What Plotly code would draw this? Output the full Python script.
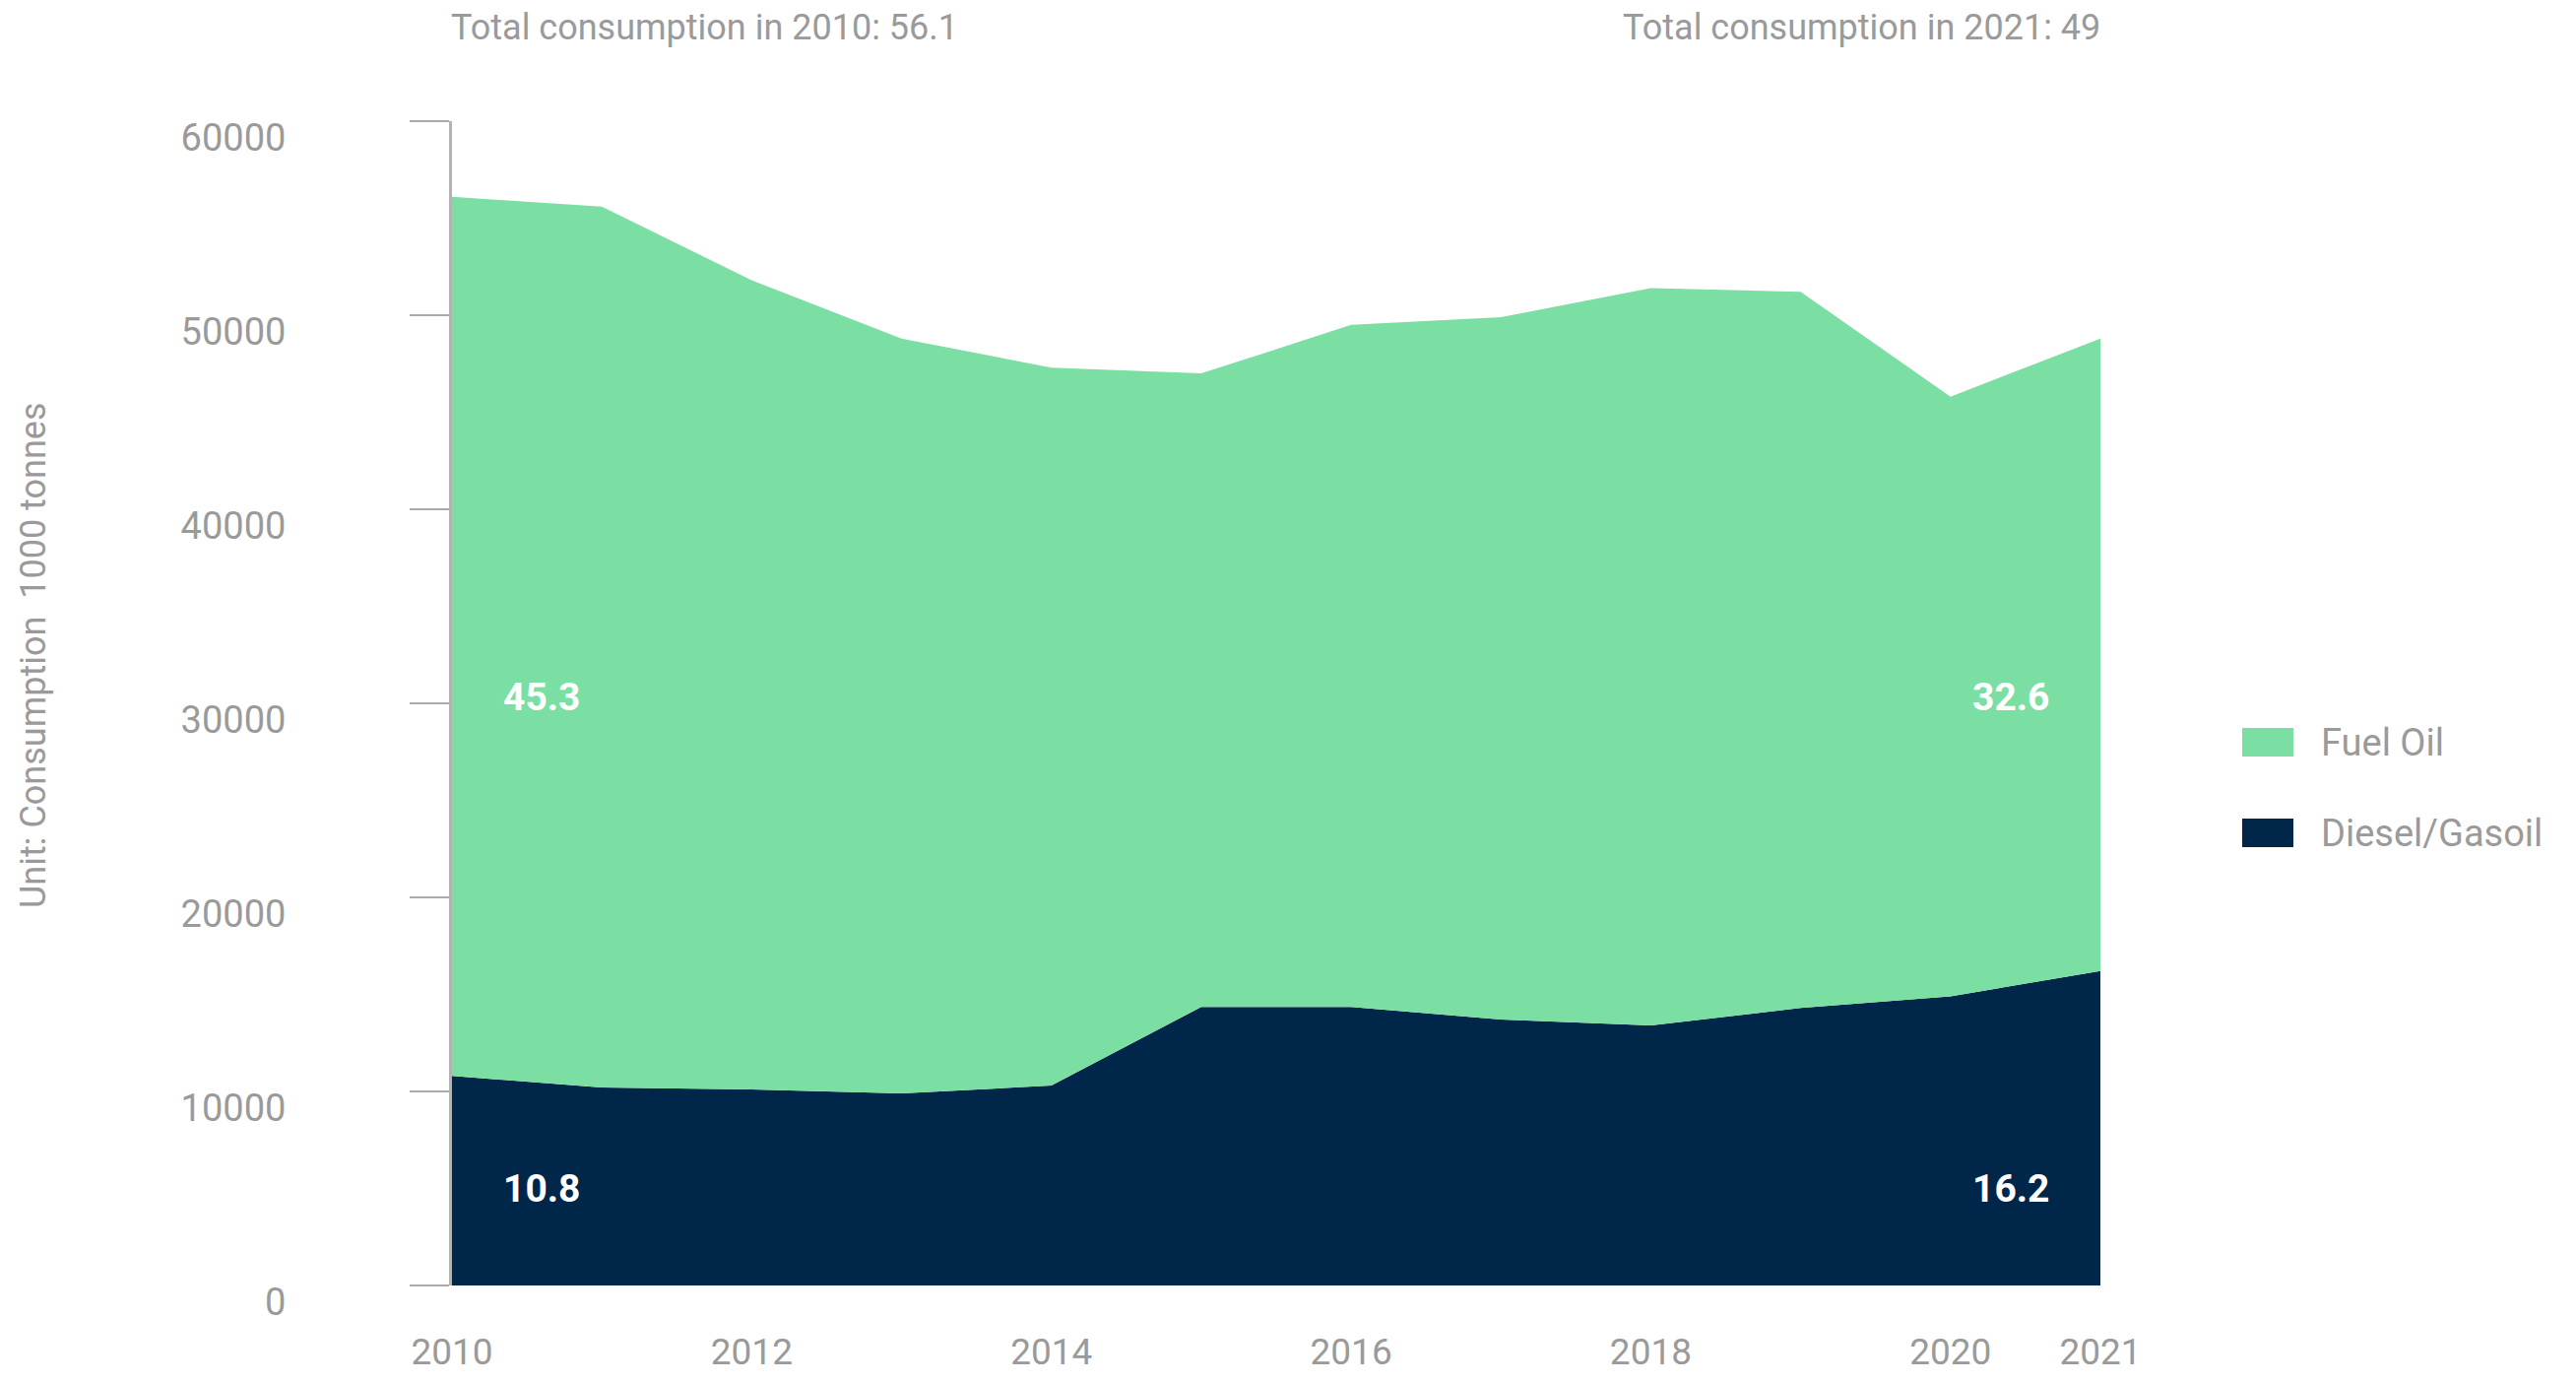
import plotly.graph_objects as go

years = [2010, 2011, 2012, 2013, 2014, 2015, 2016, 2017, 2018, 2019, 2020, 2021]
diesel = [10800, 10200, 10100, 9900, 10300, 14350, 14350, 13700, 13400, 14300, 14900, 16200]
fuel_oil = [45300, 45400, 41700, 38900, 37000, 32650, 35150, 36200, 38000, 36900, 30900, 32600]
series_names = ["Diesel/Gasoil", "Fuel Oil"]
x_tick_vals = [2010, 2012, 2014, 2016, 2018, 2020, 2021]
y_tick_vals = [0, 10000, 20000, 30000, 40000, 50000, 60000]
header_texts = ["Total consumption in 2010: 56.1", "Total consumption in 2021: 49"]
y_title = "Unit: Consumption  1000 tonnes"

GREEN = "#7bdfa3"
NAVY = "#00264a"
GRAY = "#9a9a9a"
COND = "Roboto, Noto Sans, sans-serif"
REG = "Roboto, Noto Sans, sans-serif"

fig = go.Figure()
fig.add_trace(go.Scatter(x=years, y=diesel, name=series_names[0], mode="none",
                         stackgroup="one", fillcolor=NAVY, showlegend=False,
                         hoverinfo="x+y+name"))
fig.add_trace(go.Scatter(x=years, y=fuel_oil, name=series_names[1], mode="none",
                         stackgroup="one", fillcolor=GREEN, showlegend=False,
                         hoverinfo="x+y+name"))

OFF = 8  # page body offset
W, H = 2616 - 2 * OFF, 1404 - 2 * OFF
ml, mt = 459 - OFF, 123 - OFF
pw, ph = 1674, 1182
mr = W - ml - pw
mb = H - mt - ph


def px_x(px):
    return (px - OFF - ml) / pw


def px_y(py):
    return (mt + ph - (py - OFF)) / ph


annotations = []
annotations.append(dict(text=header_texts[0], xref="paper", yref="paper", x=px_x(456), y=px_y(28),
                        xanchor="left", yanchor="middle", showarrow=False,
                        font=dict(family=COND, size=36, color=GRAY)))
annotations.append(dict(text=header_texts[1], xref="paper", yref="paper", x=px_x(2135), y=px_y(28),
                        xanchor="right", yanchor="middle", showarrow=False,
                        font=dict(family=COND, size=36, color=GRAY)))
annotations.append(dict(text=y_title, xref="paper", yref="paper", x=px_x(34), y=px_y(665),
                        xanchor="center", yanchor="middle", textangle=-90, showarrow=False,
                        font=dict(family=COND, size=36, color=GRAY)))

lab_font = dict(family=REG, size=39, color="white", weight="bold")
for xi, xpos in [(0, years[0] + 0.6), (-1, years[-1] - 0.6)]:
    annotations.append(dict(text=f"{fuel_oil[xi]/1000:.1f}", x=xpos, y=30300, xref="x", yref="y",
                            showarrow=False, font=lab_font, xanchor="center", yanchor="middle"))
    annotations.append(dict(text=f"{diesel[xi]/1000:.1f}", x=xpos, y=5000, xref="x", yref="y",
                            showarrow=False, font=lab_font, xanchor="center", yanchor="middle"))

shapes = []
legend_items = [(series_names[1], GREEN, 739), (series_names[0], NAVY, 831)]
for name, col, top in legend_items:
    shapes.append(dict(type="rect", xref="paper", yref="paper",
                       x0=px_x(2277), x1=px_x(2329), y0=px_y(top + 29), y1=px_y(top),
                       fillcolor=col, line=dict(width=0)))
    annotations.append(dict(text=name, xref="paper", yref="paper", x=px_x(2355), y=px_y(top + 15),
                            xanchor="left", yanchor="middle", showarrow=False,
                            font=dict(family=REG, size=38, color=GRAY)))

fig.update_layout(
    width=W, height=H,
    margin=dict(l=ml, r=mr, t=mt, b=mb, autoexpand=False),
    paper_bgcolor="white", plot_bgcolor="white",
    showlegend=False,
    annotations=annotations,
    shapes=shapes,
)
fig.update_xaxes(range=[2010, 2021], tickvals=x_tick_vals, ticktext=[str(v) for v in x_tick_vals],
                 showgrid=False, zeroline=False, showline=False, ticks="", automargin=False,
                 tickfont=dict(family=COND, size=37, color=GRAY), ticklabelstandoff=42)
fig.update_yaxes(range=[0, 60000], tickvals=y_tick_vals, ticktext=[str(v) for v in y_tick_vals],
                 showgrid=False, zeroline=False, showline=True, linecolor="#b3b3b3", linewidth=3,
                 ticks="outside", ticklen=40, tickcolor="#aaaaaa", tickwidth=2, automargin=False,
                 tickfont=dict(family=COND, size=38, color=GRAY), ticklabelstandoff=118,
                 ticklabelshift=17)

fig.write_html("out.html")
